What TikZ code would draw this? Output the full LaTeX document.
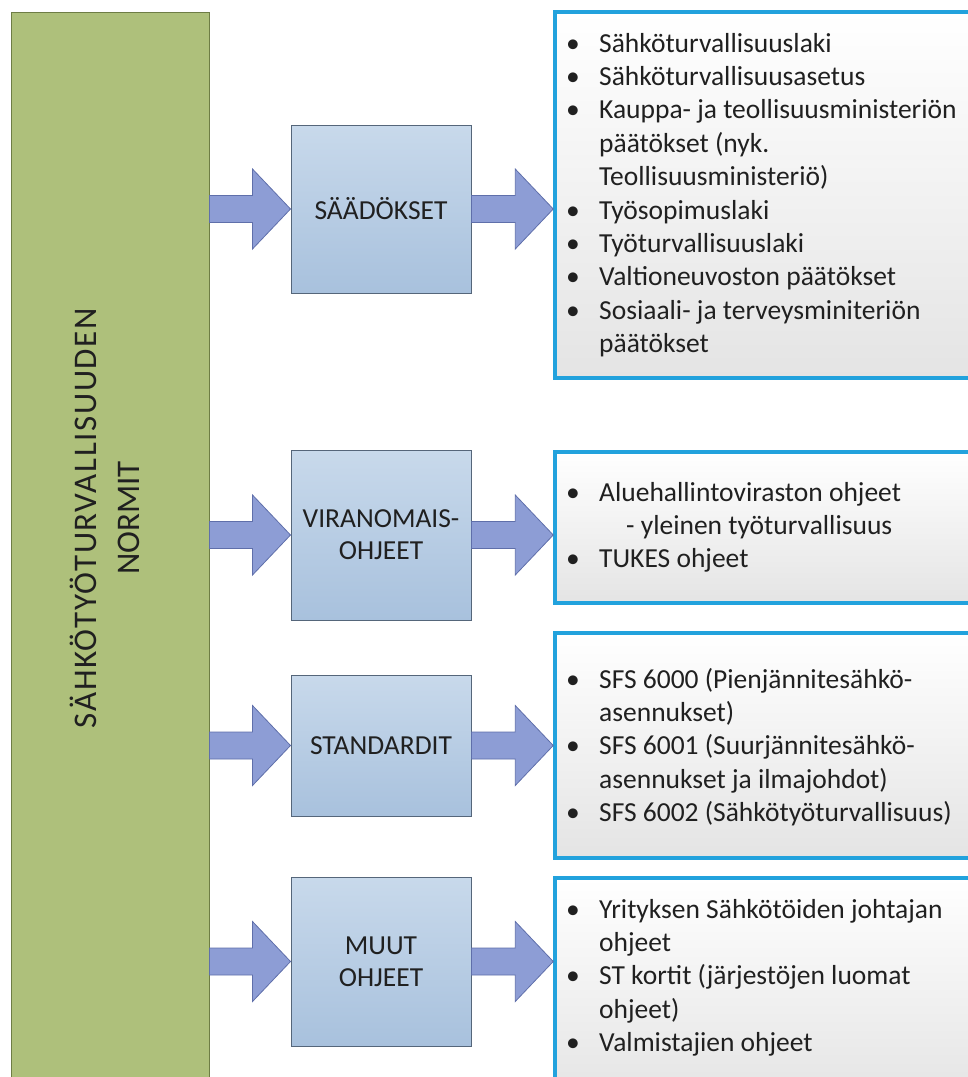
\documentclass[tikz,border=0pt]{standalone}
\usepackage{fontspec}
\setmainfont{Carlito}
\usetikzlibrary{calc}

\definecolor{normfill}{HTML}{AEC07B}
\definecolor{normdraw}{HTML}{6E7D45}
\definecolor{cattop}{HTML}{C8D9EB}
\definecolor{catbot}{HTML}{A8C1DD}
\definecolor{catdraw}{HTML}{55667A}
\definecolor{arrfill}{HTML}{8D9DD5}
\definecolor{arrdraw}{HTML}{5F6FAA}
\definecolor{listdraw}{HTML}{22A2DD}
\definecolor{listbot}{HTML}{E4E4E4}
\definecolor{txt}{HTML}{202020}

\tikzset{
  normbox/.style={draw=normdraw, fill=normfill, line width=1pt, inner sep=0pt},
  normlabel/.style={rotate=90, align=center, inner sep=0pt, text=txt,
    font=\fontsize{33}{43}\selectfont},
  catbox/.style={draw=catdraw, top color=cattop, bottom color=catbot, line width=1pt,
    minimum width=180pt, inner sep=0pt, align=center, text=txt,
    font=\fontsize{27.5}{32}\selectfont},
  listbox/.style={draw=listdraw, line width=3.5pt, top color=white, bottom color=listbot,
    minimum width=430pt, inner sep=0pt},
  listtext/.style={anchor=base west, inner sep=0pt, text=txt,
    font=\fontsize{27.5}{33.4}\selectfont},
  blockarrow/.style={draw=arrdraw, fill=arrfill, line width=0.8pt, line join=miter},
}

% block arrow from the x of #1 to the tip #2, drawn level with the tip
\newcommand{\blockarrow}[2]{%
  \draw[blockarrow] let \p1=(#1), \p2=(#2) in
    (\x1,\y2+13.5pt) -- (\x2-38pt,\y2+13.5pt) -- (\x2-38pt,\y2+40pt) -- (\p2)
    -- (\x2-38pt,\y2-40pt) -- (\x2-38pt,\y2-13.5pt) -- (\x1,\y2-13.5pt) -- cycle;}

\newcommand{\itemrows}[1]{\begin{tabular}[t]{@{}p{33pt}@{}l@{}}#1\end{tabular}}

\begin{document}
\begin{tikzpicture}[x=1pt,y=-1pt]
\useasboundingbox (0,0) rectangle (968,1077);
\clip (0,0) rectangle (968,1077);

% main column
\node[normbox, minimum width=198pt, minimum height=1100pt] (norm) at (110,562) {};
\node[normlabel] (normtext) at (105,518)
  {{\addfontfeatures{LetterSpace=5}SÄHKÖTYÖTURVALLISUUDEN}\\NORMIT};

% categories
\node[catbox, minimum height=168pt] (saad)  at (381,209)   {SÄÄDÖKSET};
\node[catbox, minimum height=170pt] (viran) at (381,535)   {VIRANOMAIS-\\OHJEET};
\node[catbox, minimum height=141pt] (stand) at (381,745.5) {STANDARDIT};
\node[catbox, minimum height=169pt] (muut)  at (381,961.5) {MUUT\\OHJEET};

% lists
\node[listbox, minimum height=366pt] (l1) at (770,195)   {};
\node[listbox, minimum height=151pt] (l2) at (770,527.5) {};
\node[listbox, minimum height=225pt] (l3) at (770,745.5) {};
\node[listbox, minimum height=222pt] (l4) at (770,989)   {};

\node[listtext] (l1t) at (566,52) {\itemrows{%
  \textbullet & Sähköturvallisuuslaki\\
  \textbullet & Sähköturvallisuusasetus\\
  \textbullet & Kauppa- ja teollisuusministeriön\\
              & päätökset (nyk.\\
              & Teollisuusministeriö)\\
  \textbullet & Työsopimuslaki\\
  \textbullet & Työturvallisuuslaki\\
  \textbullet & Valtioneuvoston päätökset\\
  \textbullet & Sosiaali- ja terveysminiteriön\\
              & päätökset}};

\node[listtext] (l2t) at (566,501) {\itemrows{%
  \textbullet & Aluehallintoviraston ohjeet\\
              & \hspace*{27pt}- yleinen työturvallisuus\\
  \textbullet & TUKES ohjeet}};

\node[listtext] (l3t) at (566,688) {\itemrows{%
  \textbullet & SFS 6000 (Pienjännitesähkö-\\
              & asennukset)\\
  \textbullet & SFS 6001 (Suurjännitesähkö-\\
              & asennukset ja ilmajohdot)\\
  \textbullet & SFS 6002 (Sähkötyöturvallisuus)}};

\node[listtext] (l4t) at (566,918) {\itemrows{%
  \textbullet & Yrityksen Sähkötöiden johtajan\\
              & ohjeet\\
  \textbullet & ST kortit (järjestöjen luomat\\
              & ohjeet)\\
  \textbullet & Valmistajien ohjeet}};

% arrows into the categories
\blockarrow{norm.east |- saad.west}{saad.west}
\blockarrow{norm.east |- viran.west}{viran.west}
\blockarrow{norm.east |- stand.west}{stand.west}
\blockarrow{norm.east |- muut.west}{muut.west}

% arrows out to the lists
\blockarrow{saad.east}{l1.west |- saad.east}
\blockarrow{viran.east}{l2.west |- viran.east}
\blockarrow{stand.east}{l3.west |- stand.east}
\blockarrow{muut.east}{l4.west |- muut.east}
\end{tikzpicture}
\end{document}
